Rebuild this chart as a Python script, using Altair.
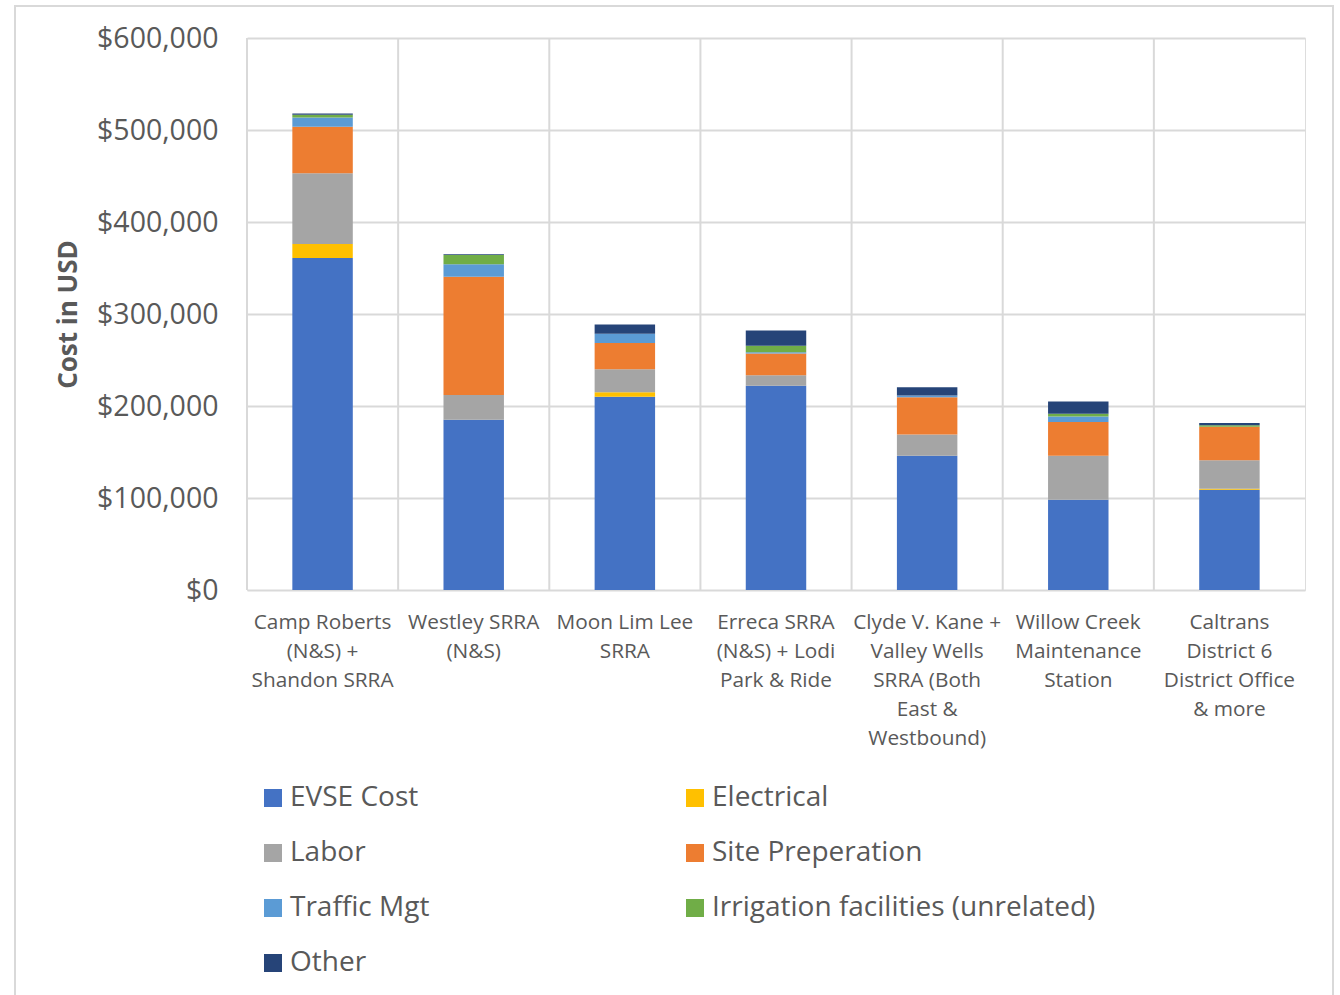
import altair as alt
import pandas as pd

sites = [
    "Camp Roberts|(N&S) +|Shandon SRRA",
    "Westley SRRA|(N&S)",
    "Moon Lim Lee|SRRA",
    "Erreca SRRA|(N&S) + Lodi|Park & Ride",
    "Clyde V. Kane +|Valley Wells|SRRA (Both|East &|Westbound)",
    "Willow Creek|Maintenance|Station",
    "Caltrans|District 6|District Office|& more",
]
categories = ["EVSE Cost", "Electrical", "Labor", "Site Preperation",
              "Traffic Mgt", "Irrigation facilities (unrelated)", "Other"]
colors = ["#4472C4", "#FFC000", "#A5A5A5", "#ED7D31", "#5B9BD5", "#70AD47", "#264478"]

evse = [361000, 185000, 210000, 222000, 146000, 98000, 109000]
electrical = [15000, 0, 5000, 0, 0, 0, 1000]
labor = [77000, 27000, 25000, 11500, 23000, 48000, 31000]
site_prep = [50500, 128500, 28500, 23500, 40500, 36500, 36500]
traffic = [10000, 13500, 10000, 1500, 2000, 6000, 0]
irrigation = [3000, 10000, 0, 7000, 0, 3000, 1500]
other = [1500, 1000, 10000, 16500, 9000, 13500, 2500]

series = [evse, electrical, labor, site_prep, traffic, irrigation, other]
rows = []
for ci, (cat, vals) in enumerate(zip(categories, series)):
    for s, v in zip(sites, vals):
        rows.append({"site": s, "category": cat, "order": ci, "value": v})
df = pd.DataFrame(rows)

FONT = "Open Sans"
GRID = "#d9d9d9"
TXT = "#595959"

x_scale = alt.Scale(domain=sites, paddingInner=0, paddingOuter=0)
x_axis = alt.Axis(labelExpr="split(datum.label, '|')", labelAngle=0,
                  labelFontSize=20.8, labelLineHeight=29.2, labelColor=TXT,
                  labelFont=FONT, labelPadding=22, ticks=False,
                  domain=False, grid=False, labelBaseline="top",
                  labelLimit=300, labelOverlap=False, title=None)

bars = alt.Chart(df).mark_bar(width=alt.RelativeBandSize(0.4)).encode(
    x=alt.X("site:N", scale=x_scale, sort=sites, title=None, axis=x_axis),
    y=alt.Y("value:Q", stack="zero",
            scale=alt.Scale(domain=[0, 600000], nice=False),
            axis=alt.Axis(values=[0, 100000, 200000, 300000, 400000, 500000, 600000],
                          format="$,.0f", labelFontSize=28.5, labelColor=TXT,
                          labelFont=FONT, labelPadding=29, ticks=False,
                          domain=False, grid=True, gridColor=GRID, gridWidth=2,
                          title="Cost in USD", titleFontSize=26,
                          titleFontWeight="bold", titleColor=TXT, titleFont=FONT,
                          titlePadding=15)),
    color=alt.Color("category:N",
                    scale=alt.Scale(domain=categories, range=colors),
                    legend=alt.Legend(title=None, orient="none", legendX=12,
                                      legendY=746, columns=2, columnPadding=251,
                                      direction="horizontal",
                                      rowPadding=27, symbolType="square",
                                      symbolSize=324, symbolStrokeWidth=0,
                                      labelFontSize=28, labelFont=FONT,
                                      labelColor=TXT, labelOffset=3,
                                      labelLimit=500)),
    order=alt.Order("order:Q", sort="ascending"),
)

vgrid = alt.Chart(pd.DataFrame({"site": sites})).mark_rule(
    color=GRID, strokeWidth=2
).encode(
    x=alt.X("site:N", scale=x_scale, bandPosition=0, sort=sites, title=None, axis=x_axis)
)

border = alt.Chart(pd.DataFrame({"a": [0]})).mark_rect(
    fillOpacity=0, stroke=GRID, strokeWidth=2, clip=False
).encode(
    x=alt.value(-232), x2=alt.value(1086), y=alt.value(-32), y2=alt.value(970)
)

chart = alt.layer(bars, vgrid, border).properties(
    width=1058, height=552,
    autosize=alt.AutoSizeParams(type="none"),
    padding={"left": 247, "top": 38, "right": 35, "bottom": 405},
).configure_view(stroke=GRID, strokeWidth=2, fill="#eeeeee").configure(background="white")

chart.save("out.html", embed_options={"renderer": "svg", "actions": False})
